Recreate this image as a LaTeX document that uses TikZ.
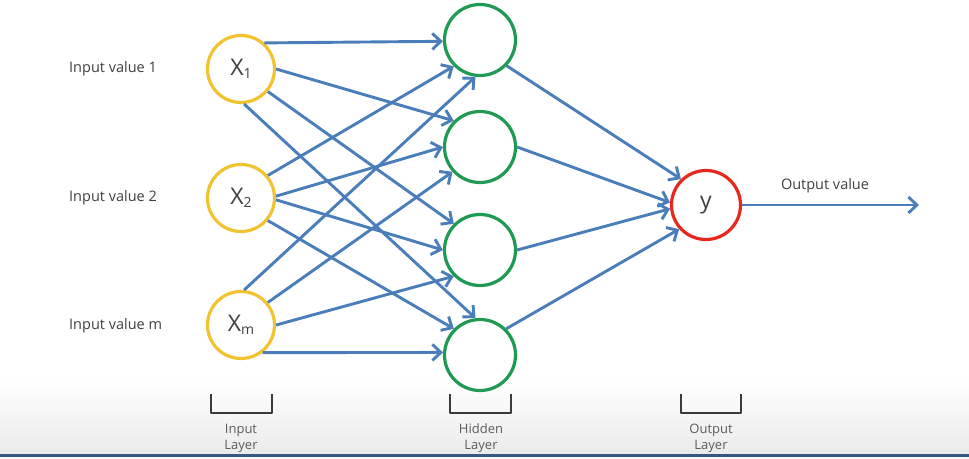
\documentclass[tikz,border=0pt]{standalone}
\usepackage{fontspec}
\setmainfont{Open Sans}
\usetikzlibrary{arrows.meta}
\definecolor{conncol}{HTML}{4A7EBB}
\definecolor{incol}{HTML}{F2C330}
\definecolor{hidcol}{HTML}{1E9A52}
\definecolor{outcol}{HTML}{E8281E}
\definecolor{txtcol}{HTML}{404040}
\definecolor{brcol}{HTML}{3A3A3A}
\definecolor{barcol}{HTML}{34568A}
\tikzset{
  neuron/.style={circle, draw, line width=3.2pt, fill=white, inner sep=0pt},
  innode/.style={neuron, draw=incol, minimum size=67pt},
  hidnode/.style={neuron, draw=hidcol, minimum size=71pt},
  outnode/.style={neuron, draw=outcol, minimum size=69pt},
  conn/.style={draw=conncol, line width=2.9pt, -{Straight Barb[length=8.5pt,width=16pt,line width=2.9pt]}},
  sidelabel/.style={text=txtcol, font=\fontsize{14.5}{17}\selectfont, anchor=west, inner sep=0pt},
  nlabel/.style={text=txtcol, font=\fontsize{23}{26}\selectfont},
  layerlabel/.style={text=txtcol!85, font=\fontsize{13}{16}\selectfont, align=center, inner sep=0pt},
  bracket/.style={draw=brcol, line width=2.8pt, line join=round}
}
\begin{document}
\begin{tikzpicture}[x=1pt,y=-1pt]
\useasboundingbox (0,0) rectangle (969,458);
\fill[white] (0,0) rectangle (969,458);
\shade[top color=white, bottom color=black!8] (0,380) rectangle (969,454);
\fill[barcol] (0,454) rectangle (969,456.5);
\fill[black!4] (0,456.5) rectangle (969,458);

% input nodes
\node[innode] (x1) at (241,69) {};
\node[innode] (x2) at (241,198) {};
\node[innode] (xm) at (241,325) {};
\node[nlabel] at (x1) {X\raisebox{-2.5pt}{\fontsize{14}{16}\selectfont 1}};
\node[nlabel] at (x2) {X\raisebox{-2.5pt}{\fontsize{14}{16}\selectfont 2}};
\node[nlabel] at (xm) {X\raisebox{-2.5pt}{\fontsize{14}{16}\selectfont m}};

% hidden nodes
\node[hidnode] (h1) at (480,40) {};
\node[hidnode] (h2) at (480,147) {};
\node[hidnode] (h3) at (480,250) {};
\node[hidnode] (h4) at (480,355) {};

% output node
\node[outnode] (y) at (706,205) {};
\node[nlabel] at (y) {y};
\coordinate (yend) at (919,205);

% side labels
\node[sidelabel] (l1) at (69,69) {Input value 1};
\node[sidelabel] (l2) at (69,198) {Input value 2};
\node[sidelabel] (l3) at (69,326) {Input value m};
\node[text=txtcol, font=\fontsize{14.5}{17}\selectfont] (ol) at (825,186) {Output value};

% input -> hidden
\draw[conn] (x1.48) -- (h1.182);
\draw[conn] (x1.0) -- (h2.135);
\draw[conn] (x1.-40) -- (h3.135);
\draw[conn] (x1.-85) -- (h4.97);
\draw[conn] (x2.40) -- (h1.225);
\draw[conn] (x2.3) -- (h2.180);
\draw[conn] (x2.-3) -- (h3.180);
\draw[conn] (x2.-40) -- (h4.135);
\draw[conn] (xm.85) -- (h1.263);
\draw[conn] (xm.40) -- (h2.222);
\draw[conn] (xm.0) -- (h3.225);
\draw[conn] (xm.-52) -- (h4.176);

% hidden -> output
\draw[conn] (h1.-44) -- (y.134);
\draw[conn] (h2.0) -- (y.176);
\draw[conn] (h3.0) -- (y.186);
\draw[conn] (h4.45) -- (y.222);
\draw[conn] (y.east) -- (yend);

% brackets
\draw[bracket] (211,394) -- (211,413) -- (272,413) -- (272,394);
\draw[bracket] (450,394) -- (450,413) -- (511,413) -- (511,394);
\draw[bracket] (681,394) -- (681,413) -- (741,413) -- (741,394);
\node[layerlabel] (il) at (241,438) {Input\\Layer};
\node[layerlabel] (hl) at (481,438) {Hidden\\Layer};
\node[layerlabel] (oll) at (711,438) {Output\\Layer};
\end{tikzpicture}
\end{document}
